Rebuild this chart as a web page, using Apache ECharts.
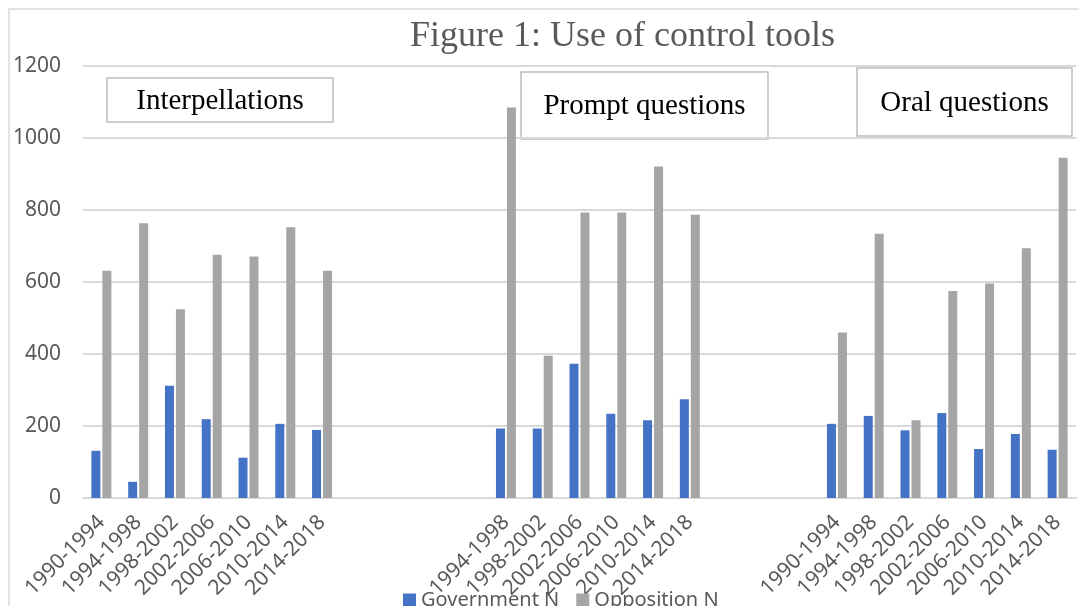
<!DOCTYPE html>
<html>
<head>
<meta charset="utf-8">
<title>Figure 1: Use of control tools</title>
<script src="https://cdn.jsdelivr.net/npm/echarts@6/dist/echarts.min.js"></script>
<style>
  html, body { margin: 0; padding: 0; background: #fff; }
  #myChart { width: 1079px; height: 606px; }
</style>
</head>
<body>
<div id="myChart"></div>
<script>
// categories of each group (blank slots between groups)
const interCats  = ['1990-1994', '1994-1998', '1998-2002', '2002-2006', '2006-2010', '2010-2014', '2014-2018']
const promptCats = ['1994-1998', '1998-2002', '2002-2006', '2006-2010', '2010-2014', '2014-2018']
const oralCats   = ['1990-1994', '1994-1998', '1998-2002', '2002-2006', '2006-2010', '2010-2014', '2014-2018']

// values
const govInter  = [131, 45, 312, 219, 112, 206, 189]
const oppInter  = [631, 763, 524, 676, 671, 752, 631]
const govPrompt = [193, 193, 373, 234, 216, 274]
const oppPrompt = [1085, 395, 793, 793, 921, 787]
const govOral   = [206, 228, 188, 236, 136, 178, 134]
const oppOral   = [460, 734, 216, 575, 596, 694, 945]

const yTicks = [0, 200, 400, 600, 800, 1000, 1200]

// gaps between groups
const gap1 = ['', '', '', '']
const gap2 = ['', '', '']
const empty = n => new Array(n).fill(null)

const categories = [...interCats, ...gap1, ...promptCats, ...gap2, ...oralCats]
const govData = [...govInter, ...empty(gap1.length), ...govPrompt, ...empty(gap2.length), ...govOral]
const oppData = [...oppInter, ...empty(gap1.length), ...oppPrompt, ...empty(gap2.length), ...oppOral]

const labelFont = '"Noto Sans", "Open Sans", sans-serif'
const serif = '"Liberation Serif", "DejaVu Serif", serif'

// little boxes with the group names
function groupBox(x, y, w, h, text) {
  return {
    type: 'group',
    children: [
      { type: 'rect', shape: { x: x, y: y, width: w, height: h },
        style: { fill: '#fff', stroke: '#bfbfbf', lineWidth: 1.5 } },
      { type: 'text', x: x + w / 2, y: y + h / 2 + 1,
        style: { text: text, fill: '#000', font: '29px ' + serif, align: 'center', verticalAlign: 'middle' } }
    ]
  }
}

let myChart = echarts.init(document.getElementById('myChart'))

myChart.setOption({
  animation: false,
  color: ['#4472C4', '#A5A5A5'],
  title: {
    text: 'Figure 1: Use of control tools',
    left: 410,
    top: 19,
    padding: 0,
    textStyle: { fontFamily: serif, fontSize: 36, fontWeight: 'normal', color: '#595959' }
  },
  legend: {
    data: ['Government N', 'Opposition N'],
    left: 398,
    top: 585,
    icon: 'rect',
    itemWidth: 13,
    itemHeight: 13,
    itemGap: 17,
    textStyle: { fontFamily: labelFont, fontSize: 20, color: '#595959' }
  },
  grid: {
    left: 83,
    right: 3,
    top: 66,
    bottom: 108
  },
  xAxis: {
    type: 'category',
    data: categories,
    axisTick: { show: false },
    axisLine: { lineStyle: { color: '#d9d9d9', width: 2 } },
    axisLabel: {
      interval: 0,
      rotate: 45,
      margin: 21,
      fontFamily: labelFont,
      fontSize: 21,
      color: '#595959'
    }
  },
  yAxis: {
    type: 'value',
    min: yTicks[0],
    max: yTicks[yTicks.length - 1],
    interval: yTicks[1] - yTicks[0],
    axisLine: { show: false },
    axisTick: { show: false },
    axisLabel: {
      margin: 22,
      fontFamily: labelFont,
      fontSize: 21,
      color: '#595959',
      formatter: v => String(v)
    },
    splitLine: { lineStyle: { color: '#d9d9d9', width: 2 } }
  },
  series: [
    { name: 'Government N', type: 'bar', barWidth: 9, barGap: '22%', data: govData },
    { name: 'Opposition N', type: 'bar', barWidth: 9, barGap: '22%', data: oppData }
  ],
  graphic: [
    // outer frame of the original chart (only top/left visible)
    { type: 'rect', shape: { x: 9, y: 9, width: 1200, height: 800 },
      style: { fill: 'none', stroke: '#d9d9d9', lineWidth: 1.5 }, silent: true },
    groupBox(107, 78, 226, 44, 'Interpellations'),
    groupBox(521, 72, 247, 67, 'Prompt questions'),
    groupBox(857, 68, 215, 68, 'Oral questions')
  ]
})
</script>
</body>
</html>
